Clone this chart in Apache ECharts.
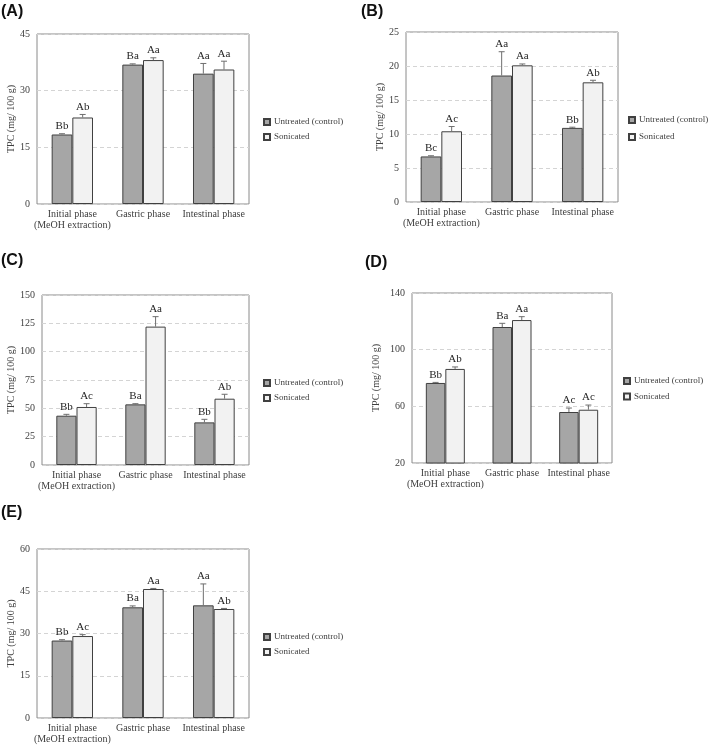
<!DOCTYPE html>
<html>
<head>
<meta charset="utf-8">
<script src="https://cdn.jsdelivr.net/npm/echarts@6/dist/echarts.min.js"></script>
<style>
html,body{margin:0;padding:0;background:#fff;}
#chart{width:708px;height:745px;}
</style>
</head>
<body>
<div id="chart"></div>
<script>
// ---------- data ----------
const categories = ['Initial phase\n(MeOH extraction)', 'Gastric phase', 'Intestinal phase'];
const seriesNames = ['Untreated (control)', 'Sonicated'];
const panelTitles = ['(A)', '(B)', '(C)', '(D)', '(E)'];
const yAxisName = 'TPC (mg/ 100 g)';

const yTicksA = [0, 15, 30, 45];
const yTicksB = [0, 5, 10, 15, 20, 25];
const yTicksC = [0, 25, 50, 75, 100, 125, 150];
const yTicksD = [20, 60, 100, 140];
const yTicksE = [0, 15, 30, 45, 60];

const controlA = [18.4, 36.9, 34.5];
const sonicatedA = [22.9, 38.1, 35.6];
const controlSdA = [0.2, 0.2, 2.7];
const sonicatedSdA = [0.8, 0.6, 2.2];
const controlLettersA = ['Bb', 'Ba', 'Aa'];
const sonicatedLettersA = ['Ab', 'Aa', 'Aa'];

const controlB = [6.7, 18.6, 10.9];
const sonicatedB = [10.4, 20.1, 17.6];
const controlSdB = [0.1, 3.5, 0.1];
const sonicatedSdB = [0.7, 0.2, 0.3];
const controlLettersB = ['Bc', 'Aa', 'Bb'];
const sonicatedLettersB = ['Ac', 'Aa', 'Ab'];

const controlC = [43.5, 53.5, 37.6];
const sonicatedC = [51.2, 122.1, 58.5];
const controlSdC = [1.2, 0.6, 2.7];
const sonicatedSdC = [2.9, 8.8, 3.9];
const controlLettersC = ['Bb', 'Ba', 'Bb'];
const sonicatedLettersC = ['Ac', 'Aa', 'Ab'];

const controlD = [76.5, 116.0, 56.0];
const sonicatedD = [86.4, 120.9, 57.6];
const controlSdD = [0.4, 2.6, 2.8];
const sonicatedSdD = [1.4, 2.4, 3.3];
const controlLettersD = ['Bb', 'Ba', 'Ac'];
const sonicatedLettersD = ['Ab', 'Aa', 'Ac'];

const controlE = [27.5, 39.3, 40.0];
const sonicatedE = [29.1, 45.8, 38.7];
const controlSdE = [0.3, 0.5, 7.6];
const sonicatedSdE = [0.5, 0.2, 0.2];
const controlLettersE = ['Bb', 'Ba', 'Aa'];
const sonicatedLettersE = ['Ac', 'Aa', 'Ab'];

// ---------- layout / style ----------
const FONT = 'Liberation Serif';
const CAT_GAP = 0.415;
const panels = [
  {ticks: yTicksA, ctrl: controlA, son: sonicatedA, ctrlSd: controlSdA, sonSd: sonicatedSdA, ctrlL: controlLettersA, sonL: sonicatedLettersA,
   grid: {left: 37, top: 34, width: 212, height: 170}, nameGap: 20, legend: {left: 263, top: 117, gap: 5}, title: {left: 1, top: 4}},
  {ticks: yTicksB, ctrl: controlB, son: sonicatedB, ctrlSd: controlSdB, sonSd: sonicatedSdB, ctrlL: controlLettersB, sonL: sonicatedLettersB,
   grid: {left: 406, top: 32, width: 212, height: 170}, nameGap: 21, legend: {left: 628, top: 115, gap: 7}, title: {left: 361, top: 4}},
  {ticks: yTicksC, ctrl: controlC, son: sonicatedC, ctrlSd: controlSdC, sonSd: sonicatedSdC, ctrlL: controlLettersC, sonL: sonicatedLettersC,
   grid: {left: 42, top: 295, width: 207, height: 170}, nameGap: 25, legend: {left: 263, top: 378, gap: 5}, title: {left: 1, top: 253}},
  {ticks: yTicksD, ctrl: controlD, son: sonicatedD, ctrlSd: controlSdD, sonSd: sonicatedSdD, ctrlL: controlLettersD, sonL: sonicatedLettersD,
   grid: {left: 412, top: 293, width: 200, height: 170}, nameGap: 31, legend: {left: 623, top: 376, gap: 5.5}, title: {left: 365, top: 255}},
  {ticks: yTicksE, ctrl: controlE, son: sonicatedE, ctrlSd: controlSdE, sonSd: sonicatedSdE, ctrlL: controlLettersE, sonL: sonicatedLettersE,
   grid: {left: 37, top: 549, width: 212, height: 170}, nameGap: 20, legend: {left: 263, top: 632, gap: 5}, title: {left: 1, top: 505}}
];

const grids = [], xAxes = [], yAxes = [], series = [], legends = [], titles = [];

panels.forEach(function (p, k) {
  grids.push(Object.assign({show: true, borderColor: '#8a8a8a', borderWidth: 1, backgroundColor: 'transparent'}, p.grid));
  titles.push({text: panelTitles[k], left: p.title.left, top: p.title.top, padding: 0,
    textStyle: {fontFamily: 'Liberation Sans', fontWeight: 'bold', fontSize: 16, color: '#111'}});
  xAxes.push({type: 'category', gridIndex: k, data: categories,
    axisLine: {show: false}, axisTick: {show: false},
    axisLabel: {fontFamily: FONT, fontSize: 10, color: '#404040', margin: 5, lineHeight: 11, interval: 0}});
  const t = p.ticks;
  yAxes.push({type: 'value', gridIndex: k, min: t[0], max: t[t.length - 1], interval: t[1] - t[0],
    name: yAxisName, nameLocation: 'middle', nameGap: p.nameGap,
    nameTextStyle: {fontFamily: FONT, fontSize: 10, color: '#404040'},
    axisLine: {show: false}, axisTick: {show: false},
    axisLabel: {fontFamily: FONT, fontSize: 10, color: '#404040', margin: 7},
    splitLine: {lineStyle: {type: [4, 3], color: '#d4d4d4', width: 1}}});
  legends.push({data: seriesNames, orient: 'vertical', left: p.legend.left, top: p.legend.top, padding: 0,
    itemGap: p.legend.gap, itemWidth: 6, itemHeight: 6, icon: 'rect', selectedMode: false,
    textStyle: {fontFamily: FONT, fontSize: 9, color: '#404040', lineHeight: 10, padding: [0, 0, 0, -1]}});

  const vals = [p.ctrl, p.son], sds = [p.ctrlSd, p.sonSd], lets = [p.ctrlL, p.sonL];
  const fills = ['#a6a6a6', '#f2f2f2'];
  [0, 1].forEach(function (s) {
    series.push({type: 'bar', name: seriesNames[s], xAxisIndex: k, yAxisIndex: k,
      data: vals[s], barGap: '0%', barCategoryGap: (CAT_GAP * 100) + '%',
      itemStyle: {color: fills[s], borderColor: '#404040', borderWidth: 1}, silent: true});
  });
  [0, 1].forEach(function (s) {
    const v = vals[s], sd = sds[s], lt = lets[s];
    series.push({type: 'custom', name: 'err' + k + s, xAxisIndex: k, yAxisIndex: k, silent: true, z: 5,
      data: v.map(function (val, j) { return [j, val + sd[j]]; }),
      renderItem: function (params, api) {
        const j = params.dataIndex;
        const band = api.size([1, 0])[0];
        const barW = band * (1 - CAT_GAP) / 2;
        const c = api.coord([j, v[j]]);
        const cx = c[0] + (s === 0 ? -barW / 2 : barW / 2);
        const yBar = c[1];
        const yTop = api.coord([j, v[j] + sd[j]])[1];
        return {type: 'group', children: [
          {type: 'line', shape: {x1: cx, y1: yBar, x2: cx, y2: yTop}, style: {stroke: '#6e6e6e', lineWidth: 1}},
          {type: 'line', shape: {x1: cx - 3, y1: yTop, x2: cx + 3, y2: yTop}, style: {stroke: '#6e6e6e', lineWidth: 1}},
          {type: 'text', x: cx, y: yTop - 2, style: {text: lt[j], textAlign: 'center', textVerticalAlign: 'bottom',
            font: '11px "' + FONT + '"', fill: '#262626'}}
        ]};
      }});
  });
});

const chart = echarts.init(document.getElementById('chart'), null, {renderer: 'canvas'});
chart.setOption({
  animation: false,
  backgroundColor: '#fff',
  title: titles,
  grid: grids,
  xAxis: xAxes,
  yAxis: yAxes,
  legend: legends,
  series: series
});
</script>
</body>
</html>
